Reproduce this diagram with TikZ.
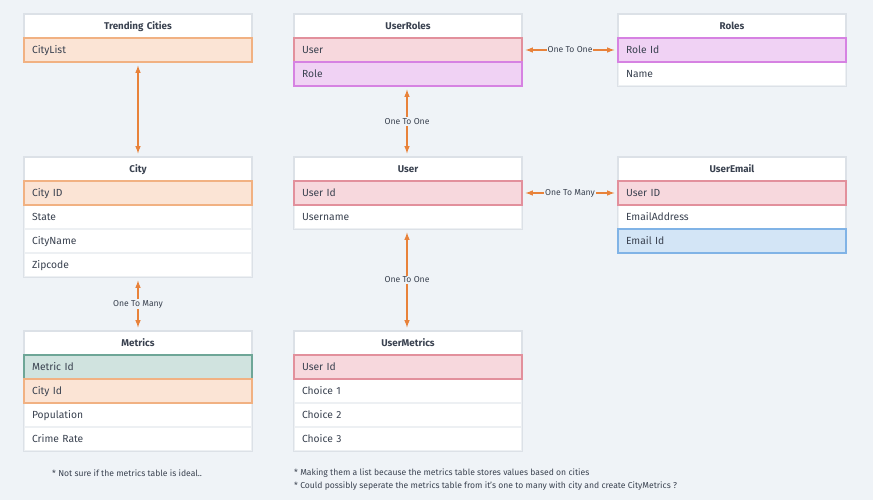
\documentclass[tikz,border=0pt]{standalone}
\usepackage{fontspec}
\setmainfont{Fira Sans}
\definecolor{fond}{HTML}{EFF3F7}
\definecolor{gris}{HTML}{DCE1E7}
\definecolor{grisclair}{HTML}{EDF0F3}
\definecolor{texte}{HTML}{3A4250}
\definecolor{orangefond}{HTML}{FBE4D5}
\definecolor{orangebord}{HTML}{F1B182}
\definecolor{rosefond}{HTML}{F7D8DD}
\definecolor{rosebord}{HTML}{E2909C}
\definecolor{violetfond}{HTML}{F0D2F4}
\definecolor{violetbord}{HTML}{D682E2}
\definecolor{vertfond}{HTML}{D0E3DF}
\definecolor{vertbord}{HTML}{6EA697}
\definecolor{bleufond}{HTML}{D3E5F6}
\definecolor{bleubord}{HTML}{80B3E6}
\definecolor{couleurfleche}{HTML}{E8823A}
\begin{document}
\begin{tikzpicture}[x=1pt,y=-1pt]
	\tikzstyle{entete}=[draw=gris,fill=white,line width=1.2pt,minimum height=24pt,text width=212pt,text height=9.5pt,text depth=2.5pt,inner xsep=8pt,inner ysep=0pt,align=center,text=texte,font=\bfseries\fontsize{9.8}{11}\selectfont]
	\tikzstyle{champ}=[entete,draw=grisclair,align=left,font=\fontsize{10.3}{12}\selectfont]
	\tikzstyle{cleorange}=[champ,fill=orangefond,draw=orangebord]
	\tikzstyle{clerose}=[champ,fill=rosefond,draw=rosebord]
	\tikzstyle{cleviolet}=[champ,fill=violetfond,draw=violetbord]
	\tikzstyle{clevert}=[champ,fill=vertfond,draw=vertbord]
	\tikzstyle{clebleu}=[champ,fill=bleufond,draw=bleubord]
	\tikzstyle{cadre}=[draw=gris,line width=1.2pt]
	\tikzstyle{fleche}=[<->,>=latex,couleurfleche,line width=1.5pt,shorten >=3pt,shorten <=3pt]
	\tikzstyle{etiquette}=[pos=0.5,fill=fond,inner sep=1pt,text=texte,font=\fontsize{8.6}{9}\selectfont]
	\tikzstyle{note}=[anchor=west,inner sep=0pt,text=texte,font=\fontsize{8.6}{9}\selectfont]
	\def\ColA{138}
	\def\ColB{408}
	\def\ColC{732}
	\def\NivA{26}
	\def\NivB{169}
	\def\NivC{343}
	\def\Pas{24}
	\useasboundingbox[fill=fond] (0,0) rectangle (873,500);
	% Trending Cities
	\node[entete] (T) at ({\ColA},{\NivA}) {Trending Cities};
	\draw[cadre] (T.north west) rectangle ({\ColA+114},{\NivA+36});
	\node[cleorange] (Tcl) at ({\ColA},{\NivA+\Pas}) {CityList};
	% UserRoles
	\node[entete] (UR) at ({\ColB},{\NivA}) {UserRoles};
	\draw[cadre] (UR.north west) rectangle ({\ColB+114},{\NivA+60});
	\node[clerose] (URu) at ({\ColB},{\NivA+\Pas}) {User};
	\node[cleviolet] (URr) at ({\ColB},{\NivA+2*\Pas}) {Role};
	% Roles
	\node[entete] (Ro) at ({\ColC},{\NivA}) {Roles};
	\node[champ] (Ron) at ({\ColC},{\NivA+2*\Pas}) {Name};
	\draw[cadre] (Ro.north west) rectangle (Ron.south east);
	\node[cleviolet] (Roi) at ({\ColC},{\NivA+\Pas}) {Role Id};
	% City
	\node[entete] (C) at ({\ColA},{\NivB}) {City};
	\node[champ] (Cst) at ({\ColA},{\NivB+2*\Pas}) {State};
	\node[champ] (Ccn) at ({\ColA},{\NivB+3*\Pas}) {CityName};
	\node[champ] (Czp) at ({\ColA},{\NivB+4*\Pas}) {Zipcode};
	\draw[cadre] (C.north west) rectangle (Czp.south east);
	\node[cleorange] (Cid) at ({\ColA},{\NivB+\Pas}) {City ID};
	% User
	\node[entete] (U) at ({\ColB},{\NivB}) {User};
	\node[champ] (Uun) at ({\ColB},{\NivB+2*\Pas}) {Username};
	\draw[cadre] (U.north west) rectangle (Uun.south east);
	\node[clerose] (Uid) at ({\ColB},{\NivB+\Pas}) {User Id};
	% UserEmail
	\node[entete] (UE) at ({\ColC},{\NivB}) {UserEmail};
	\node[champ] (UEad) at ({\ColC},{\NivB+2*\Pas}) {EmailAddress};
	\draw[cadre] (UE.north west) rectangle ({\ColC+114},{\NivB+84});
	\node[clerose] (UEid) at ({\ColC},{\NivB+\Pas}) {User ID};
	\node[clebleu] (UEem) at ({\ColC},{\NivB+3*\Pas}) {Email Id};
	% Metrics
	\node[entete] (M) at ({\ColA},{\NivC}) {Metrics};
	\node[champ] (Mpo) at ({\ColA},{\NivC+3*\Pas}) {Population};
	\node[champ] (Mcr) at ({\ColA},{\NivC+4*\Pas}) {Crime Rate};
	\draw[cadre] (M.north west) rectangle (Mcr.south east);
	\node[clevert] (Mid) at ({\ColA},{\NivC+\Pas}) {Metric Id};
	\node[cleorange] (Mci) at ({\ColA},{\NivC+2*\Pas}) {City Id};
	% UserMetrics
	\node[entete] (UM) at ({\ColB},{\NivC}) {UserMetrics};
	\foreach \i in {1,2,3}
		\node[champ] (UMc\i) at ({\ColB},{\NivC+(\i+1)*\Pas}) {Choice \i};
	\draw[cadre] (UM.north west) rectangle (UMc3.south east);
	\node[clerose] (UMid) at ({\ColB},{\NivC+\Pas}) {User Id};
	% liens
	\draw[fleche] (Tcl.south) -- (C.north);
	\draw[fleche] (URu.east) -- (Roi.west) node[etiquette] {One To One};
	\draw[fleche] ([xshift=-1pt]URr.south) -- ([xshift=-1pt]U.north) node[etiquette] {One To One};
	\draw[fleche] (Uid.east) -- (UEid.west) node[etiquette] {One To Many};
	\draw[fleche] (Czp.south) -- (M.north) node[etiquette] {One To Many};
	\draw[fleche] ([xshift=-1pt]Uun.south) -- ([xshift=-1pt]UM.north) node[etiquette] {One To One};
	% notes
	\node[note] (Na) at (52,473) {* Not sure if the metrics table is ideal..};
	\node[note] (Nb) at (294,473) {* Making them a list because the metrics table stores values based on cities};
	\node[note] (Nc) at (294,486) {* Could possibly seperate the metrics table from it's one to many with city and create CityMetrics ?};
\end{tikzpicture}
\end{document}
